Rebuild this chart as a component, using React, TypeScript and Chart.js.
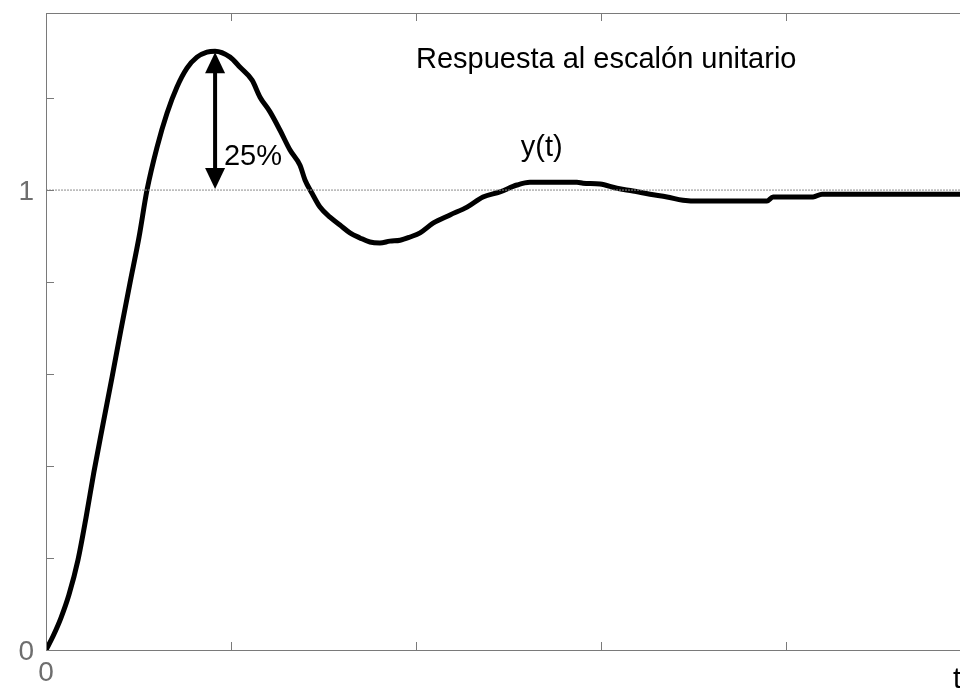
import React, { useEffect, useRef } from 'react';
import { Chart, registerables } from 'chart.js';

Chart.register(...registerables);

// ---- data ----
const tValues = [
  0, 0.038, 0.081, 0.124, 0.173, 0.216, 0.259, 0.308, 0.357, 0.405, 0.454, 0.503, 0.546,
  0.6, 0.654, 0.708, 0.762, 0.816, 0.87, 0.914, 0.995, 1.049, 1.114, 1.157, 1.211, 1.265,
  1.319, 1.373, 1.4, 1.438, 1.481, 1.535, 1.589, 1.643, 1.697, 1.751, 1.805, 1.859, 1.914,
  1.968, 2.022, 2.092, 2.184, 2.276, 2.362, 2.454, 2.546, 2.616, 2.87, 2.903, 2.995, 3.086,
  3.173, 3.265, 3.357, 3.443, 3.535, 3.897, 3.93, 4.146, 4.195, 5.0,
];
const yValues = [
  0, 0.03, 0.07, 0.12, 0.196, 0.287, 0.387, 0.491, 0.593, 0.696, 0.798, 0.898, 1.0,
  1.093, 1.167, 1.224, 1.265, 1.289, 1.3, 1.302, 1.289, 1.267, 1.239, 1.202, 1.17, 1.13,
  1.087, 1.054, 1.022, 0.993, 0.963, 0.941, 0.924, 0.907, 0.896, 0.887, 0.885, 0.889, 0.891,
  0.898, 0.907, 0.928, 0.946, 0.963, 0.985, 0.996, 1.011, 1.017, 1.017, 1.015, 1.013, 1.004,
  0.998, 0.991, 0.985, 0.978, 0.976, 0.976, 0.985, 0.985, 0.991, 0.991,
];
const xTickValues = [0, 1, 2, 3, 4, 5];
const yTickValues = [0, 0.2, 0.4, 0.6, 0.8, 1.0, 1.2];
const xTickLabels = ['0', '', '', '', '', ''];
const yLabelled = [0, 1];
const referenceLevel = 1;
const peakT = 0.914;
const peakY = 1.302;
const titleText = 'Respuesta al escalón unitario';
const seriesText = 'y(t)';
const overshootText = '25%';
const timeText = 't';

const FONT = '"Liberation Sans", Arial, Helvetica, sans-serif';

const framePlugin = {
  id: 'frameTicks',
  afterDatasetsDraw(chart: any) {
    const { ctx, chartArea: a, scales } = chart;
    const xs = scales.x;
    const ys = scales.y;
    ctx.save();
    ctx.strokeStyle = '#7a7a7a';
    ctx.lineWidth = 1;
    ctx.strokeRect(a.left + 0.5, a.top + 0.5, a.right - a.left, a.bottom - a.top);
    const L = 8;
    ctx.beginPath();
    xTickValues.forEach((v) => {
      const px = Math.round(xs.getPixelForValue(v)) + 0.5;
      ctx.moveTo(px, a.bottom);
      ctx.lineTo(px, a.bottom - L);
      ctx.moveTo(px, a.top);
      ctx.lineTo(px, a.top + L);
    });
    yTickValues.forEach((v) => {
      const py = Math.round(ys.getPixelForValue(v)) + 0.5;
      ctx.moveTo(a.left, py);
      ctx.lineTo(a.left + L, py);
      ctx.moveTo(a.right, py);
      ctx.lineTo(a.right - L, py);
    });
    ctx.stroke();

    // double arrow for overshoot
    const ax = xs.getPixelForValue(peakT);
    const ay1 = ys.getPixelForValue(peakY);
    const ay2 = ys.getPixelForValue(referenceLevel);
    ctx.strokeStyle = '#000';
    ctx.fillStyle = '#000';
    ctx.lineWidth = 4;
    ctx.beginPath();
    ctx.moveTo(ax, ay1 + 15);
    ctx.lineTo(ax, ay2 - 15);
    ctx.stroke();
    const hw = 10;
    const hh = 21;
    ctx.beginPath();
    ctx.moveTo(ax, ay1 + 1);
    ctx.lineTo(ax - hw, ay1 + 1 + hh);
    ctx.lineTo(ax + hw, ay1 + 1 + hh);
    ctx.closePath();
    ctx.fill();
    ctx.beginPath();
    ctx.moveTo(ax, ay2 - 1);
    ctx.lineTo(ax - hw, ay2 - 1 - hh);
    ctx.lineTo(ax + hw, ay2 - 1 - hh);
    ctx.closePath();
    ctx.fill();

    // texts
    ctx.font = `29px ${FONT}`;
    ctx.textBaseline = 'middle';
    ctx.textAlign = 'left';
    ctx.fillText(titleText, xs.getPixelForValue(2.0), ys.getPixelForValue(1.283));
    ctx.fillText(overshootText, xs.getPixelForValue(0.962), ys.getPixelForValue(1.072));
    ctx.textAlign = 'center';
    ctx.fillText(seriesText, xs.getPixelForValue(2.68), ys.getPixelForValue(1.091));
    ctx.textAlign = 'left';
    ctx.fillText(timeText, xs.getPixelForValue(4.903), ys.getPixelForValue(-0.065));
    ctx.restore();
  },
};

export default function App() {
  const ref = useRef<HTMLCanvasElement | null>(null);
  useEffect(() => {
    if (!ref.current) return;
    const points = tValues.map((t, i) => ({ x: t, y: yValues[i] }));
    const chart = new Chart(ref.current, {
      type: 'line',
      data: {
        datasets: [
          {
            data: [
              { x: 0, y: referenceLevel },
              { x: 5, y: referenceLevel },
            ],
            borderColor: '#8a8a8a',
            borderWidth: 1,
            borderDash: [2, 1],
            pointRadius: 0,
          },
          {
            data: points,
            borderColor: '#000',
            borderWidth: 5,
            pointRadius: 0,
            cubicInterpolationMode: 'monotone',
            borderCapStyle: 'round',
            borderJoinStyle: 'round',
          },
        ],
      },
      options: {
        responsive: false,
        animation: false,
        layout: { padding: { top: 13, right: 29, left: 0, bottom: 0 } },
        plugins: { legend: { display: false }, tooltip: { enabled: false } },
        scales: {
          x: {
            type: 'linear',
            min: 0,
            max: 5,
            grid: { display: false, drawTicks: false },
            border: { display: false },
            afterFit: (s: any) => {
              s.height = 41;
              s.paddingLeft = 0;
              s.paddingRight = 0;
            },
            afterBuildTicks: (s: any) => {
              s.ticks = xTickValues.map((v) => ({ value: v }));
            },
            ticks: {
              autoSkip: false,
              maxRotation: 0,
              padding: 6,
              color: '#6e6e6e',
              font: { family: FONT, size: 28 },
              callback: (v: any) => {
                const i = xTickValues.indexOf(Number(v));
                return i >= 0 ? xTickLabels[i] : '';
              },
            },
          },
          y: {
            type: 'linear',
            min: 0,
            max: 1.385,
            grid: { display: false, drawTicks: false },
            border: { display: false },
            afterFit: (s: any) => {
              s.width = 46;
              s.paddingTop = 0;
              s.paddingBottom = 0;
            },
            afterBuildTicks: (s: any) => {
              s.ticks = yTickValues.map((v) => ({ value: v }));
            },
            ticks: {
              autoSkip: false,
              padding: 12,
              labelOffset: 2,
              color: '#6e6e6e',
              font: { family: FONT, size: 28 },
              callback: (v: any) => {
                const n = Number(v);
                return yLabelled.some((l) => Math.abs(l - n) < 1e-6) ? String(Math.round(n)) : '';
              },
            },
          },
        },
      },
      plugins: [framePlugin],
    });
    return () => chart.destroy();
  }, []);
  return (
    <div
      style={{
        position: 'fixed',
        left: 0,
        top: 0,
        width: 960,
        height: 691,
        overflow: 'hidden',
        background: '#fff',
      }}
    >
      <canvas ref={ref} width={1000} height={691} style={{ display: 'block' }} />
    </div>
  );
}
